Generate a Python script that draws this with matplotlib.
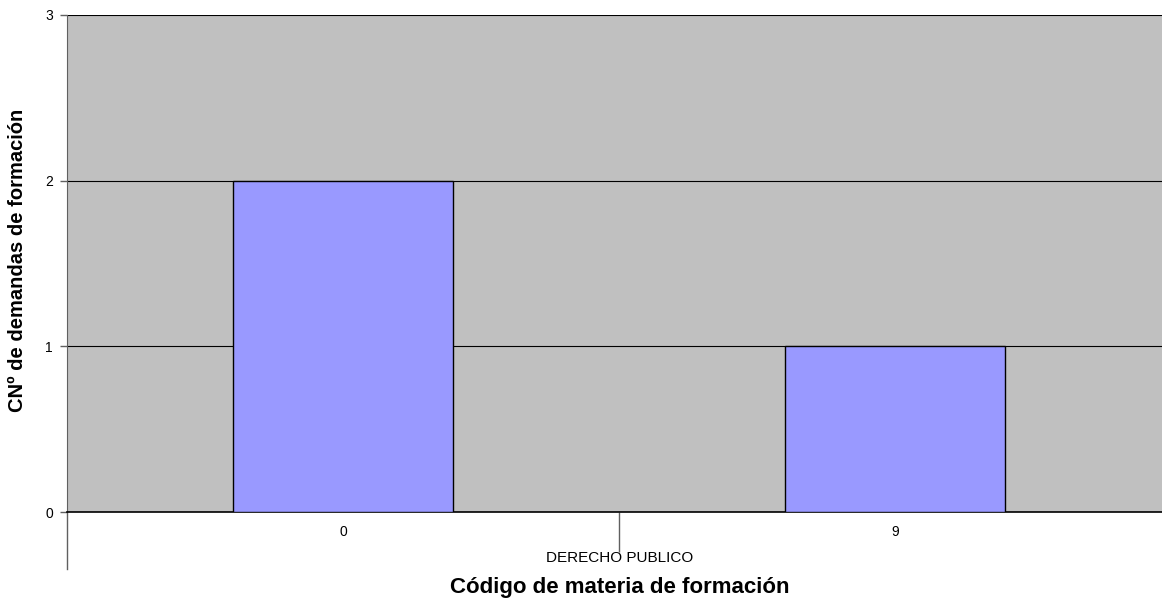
import matplotlib.pyplot as plt

# Datos del gráfico
categorias = ['0', '9']
demandas = [2, 1]
grupo = 'DERECHO PUBLICO'

plt.rcParams['font.family'] = ['Liberation Sans', 'DejaVu Sans']

fig = plt.figure(figsize=(11.62, 6.0), dpi=100)
ax = fig.add_axes([67 / 1162, 88 / 600, 1104 / 1162, 497 / 600])
ax.set_facecolor('#C0C0C0')

x = range(len(categorias))
ax.bar(x, demandas, width=0.40, color='#9999FF', edgecolor='black', linewidth=1, zorder=3)

ax.set_xlim(-0.5, len(categorias) - 0.5)
ax.set_ylim(0, 3)
ax.set_yticks([0, 1, 2, 3])
ax.grid(axis='y', color='black', linewidth=0.8, zorder=1)
ax.set_axisbelow(True)

# Eje x: etiquetas de categoría sin marcas, marca en el límite entre categorías
ax.set_xticks(list(x))
ax.set_xticklabels(categorias, fontsize=10)
ax.tick_params(axis='x', length=0, pad=9)
ax.set_xticks([0.5], minor=True)
ax.tick_params(axis='x', which='minor', length=29, width=1, color='#606060', direction='out')
ax.tick_params(axis='y', length=5, width=1, color='#606060', labelsize=10, pad=5)

for s in ['top', 'right']:
    ax.spines[s].set_visible(False)
ax.spines['bottom'].set_color('black')
ax.spines['bottom'].set_linewidth(1.2)
ax.spines['left'].set_color('#606060')

# Línea del eje izquierdo prolongada bajo el gráfico (eje multinivel)
ax.plot([0, 0], [0, -57 / 497], transform=ax.transAxes, color='#606060', linewidth=1, clip_on=False)

fig.text(620 / 1162, 1 - 558 / 600, grupo, ha='center', va='center', fontsize=11)

fig.text(620 / 1162, 1 - 587 / 600, 'Código de materia de formación', ha='center', va='center',
         fontsize=16, fontweight='bold')
fig.text(18 / 1162, 1 - 260 / 600, 'CNº de demandas de formación', ha='center', va='center',
         rotation=90, fontsize=14.5, fontweight='bold')

fig.savefig('out.png', dpi=100)
